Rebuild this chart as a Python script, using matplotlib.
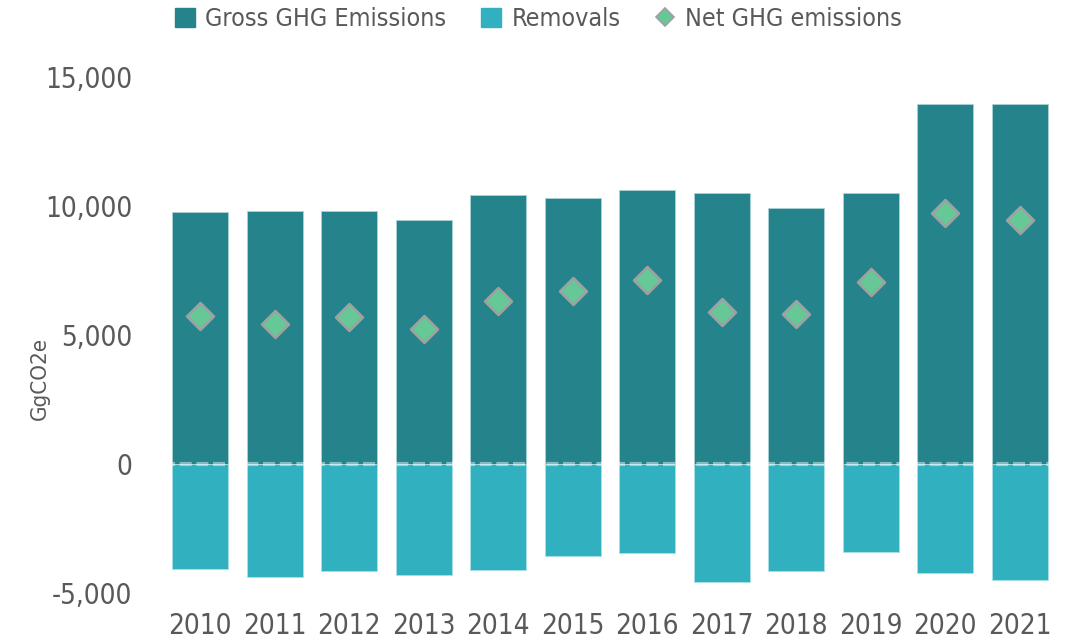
# Importations

import numpy as np
import matplotlib.pyplot as plt
from matplotlib.lines import Line2D
from matplotlib.patches import Patch


# Data

years = ["2010", "2011", "2012", "2013", "2014", "2015", "2016", "2017", "2018", "2019", "2020", "2021"]
gross = [9770, 9800, 9810, 9460, 10430, 10310, 10620, 10500, 9920, 10500, 13950, 13960]
removals = [-4070, -4380, -4150, -4300, -4110, -3570, -3450, -4570, -4150, -3410, -4230, -4500]
net = [5740, 5430, 5700, 5230, 6320, 6710, 7130, 5890, 5810, 7050, 9730, 9460]

c_gross, c_rem, c_net = "#25838B", "#31B1BF", "#66C896"
txt = "#595959"


# Figure

plt.rcParams["font.family"] = ["DejaVu Sans"]
plt.rcParams["font.stretch"] = "condensed"

fig = plt.figure(figsize=(10.71, 6.41), dpi=100)
ax = fig.add_axes([0.1522, 0.0749, 0.8348, 0.805])

x = np.arange(len(years))
ax.bar(x, gross, width=0.75, color=c_gross, edgecolor="#a8d4d8", linewidth=0.6, zorder=2)
ax.bar(x, removals, width=0.75, color=c_rem, edgecolor="#a8e0e6", linewidth=0.6, zorder=2)
ax.axhline(0, color="white", alpha=0.45, linestyle=(0, (2.9, 1.1)), linewidth=3, zorder=3)
ax.scatter(x, net, marker="D", s=190, color=c_net, edgecolors="#a0a0a0", linewidths=1.8, zorder=4)

ax.set_xlim(-0.5, len(years) - 0.5)
ax.set_ylim(-5000, 15000)
ax.set_yticks([-5000, 0, 5000, 10000, 15000])
ax.set_yticklabels(["-5,000", "0", "5,000", "10,000", "15,000"])
ax.set_xticks(x)
ax.set_xticklabels(years)
ax.tick_params(length=0, labelsize=20, colors=txt)
ax.tick_params(axis="y", pad=22)
ax.tick_params(axis="x", pad=14)
for s in ax.spines.values():
    s.set_visible(False)

fig.text(40 / 1071, 1 - 378 / 641, "GgCO2e", rotation=90, ha="center", va="center", fontsize=16, color=txt)

handles = [Patch(color=c_gross), Patch(color=c_rem),
           Line2D([], [], marker="D", linestyle="none", markersize=9, markerfacecolor=c_net,
                  markeredgecolor="#a0a0a0", markeredgewidth=1.2)]
labels = ["Gross GHG Emissions", "Removals", "Net GHG emissions"]
leg = fig.legend(handles, labels, loc="center", bbox_to_anchor=(0.503, 1 - 19 / 641), ncol=3, frameon=False,
                 fontsize=18, handlelength=0.8, handleheight=0.8, handletextpad=0.4, columnspacing=1.4)
for t in leg.get_texts():
    t.set_color(txt)

fig.savefig("out.png", dpi=100)
